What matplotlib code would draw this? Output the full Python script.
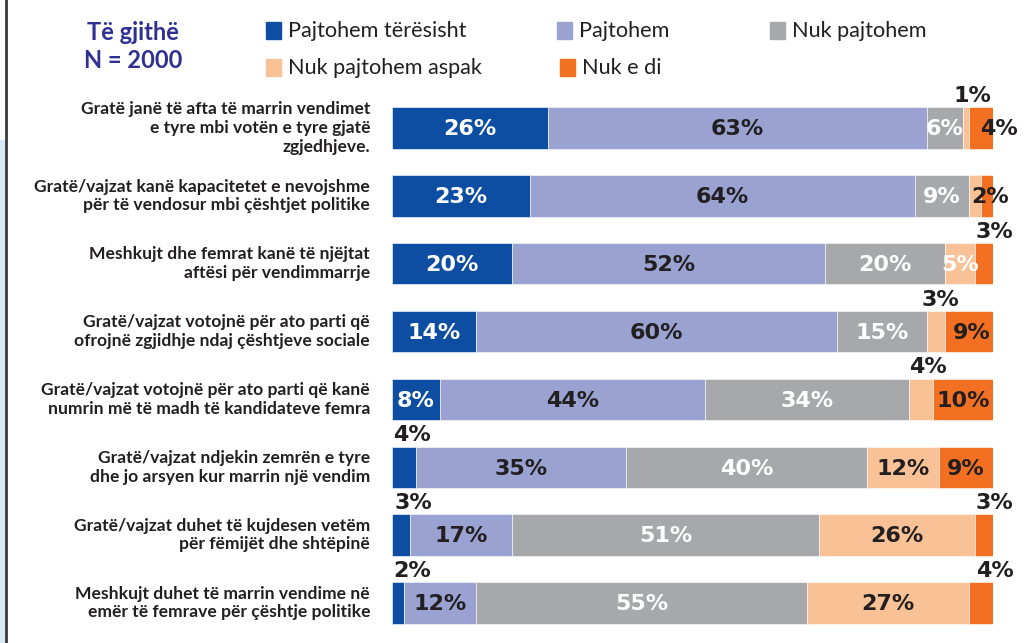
import matplotlib
matplotlib.use("Agg")
import matplotlib.pyplot as plt
from matplotlib.patches import Rectangle
from matplotlib.lines import Line2D

categories = [
    "Gratë janë të afta të marrin vendimet\ne tyre mbi votën e tyre gjatë\nzgjedhjeve.",
    "Gratë/vajzat kanë kapacitetet e nevojshme\npër të vendosur mbi çështjet politike",
    "Meshkujt dhe femrat kanë të njëjtat\naftësi për vendimmarrje",
    "Gratë/vajzat votojnë për ato parti që\nofrojnë zgjidhje ndaj çështjeve sociale",
    "Gratë/vajzat votojnë për ato parti që kanë\nnumrin më të madh të kandidateve femra",
    "Gratë/vajzat ndjekin zemrën e tyre\ndhe jo arsyen kur marrin një vendim",
    "Gratë/vajzat duhet të kujdesen vetëm\npër fëmijët dhe shtëpinë",
    "Meshkujt duhet të marrin vendime në\nemër të femrave për çështje politike",
]
series_names = ["Pajtohem tërësisht", "Pajtohem", "Nuk pajtohem",
                "Nuk pajtohem aspak", "Nuk e di"]
pajtohem_teresisht = [26, 23, 20, 14, 8, 4, 3, 2]
pajtohem = [63, 64, 52, 60, 44, 35, 17, 12]
nuk_pajtohem = [6, 9, 20, 15, 34, 40, 51, 55]
nuk_pajtohem_aspak = [1, 2, 5, 3, 4, 12, 26, 27]
nuk_e_di = [4, 2, 3, 9, 10, 9, 3, 4]
series = [pajtohem_teresisht, pajtohem, nuk_pajtohem, nuk_pajtohem_aspak, nuk_e_di]

colors = ["#0d4ea2", "#99a2d1", "#a7a8ab", "#f9c196", "#f37022"]
DARK = "#231f20"
txt_colors = ["white", DARK, "white", DARK, DARK]

# label placement overrides: (row, series) -> (mode, dx, color)
overrides = {
    (0, 3): ("above", 1.0, DARK),
    (0, 4): ("in", 3.0, DARK),
    (1, 3): ("none", 0, DARK),
    (1, 4): ("in", 0.6, DARK),
    (2, 3): ("in", 0, "white"),
    (2, 4): ("above", 1.8, DARK),
    (3, 3): ("above", 0.8, DARK),
    (4, 3): ("above", 1.2, DARK),
    (5, 0): ("above", 1.3, DARK),
    (6, 0): ("above", 2.0, DARK),
    (6, 4): ("above", 1.8, DARK),
    (7, 0): ("above", 2.3, DARK),
    (7, 4): ("above", 2.3, DARK),
}

W, H = 1029, 643
fig = plt.figure(figsize=(W / 100, H / 100), dpi=100)
fig.patch.set_facecolor("white")

pitch = (603 - 128) / 7
top_px = 128 - 0.5 * pitch
bot_px = 603 + 0.5 * pitch
ax = fig.add_axes([392 / W, 1 - bot_px / H, 601 / W, (bot_px - top_px) / H])
ax.set_xlim(0, 100)
ax.set_ylim(7.5, -0.5)
ax.axis("off")

bh = 0.61
ypos = list(range(len(categories)))
left = [0] * len(categories)
for si, vals in enumerate(series):
    ax.barh(ypos, vals, left=left, height=bh, color=colors[si],
            edgecolor="white", linewidth=0.4)
    for r, v in enumerate(vals):
        mode, dx, col = overrides.get((r, si), ("in", 0, txt_colors[si]))
        cx = left[r] + v / 2 + dx
        if mode == "in":
            ax.text(cx, r + 0.02, f"{v}%", ha="center", va="center",
                    color=col, fontsize=16, fontweight="bold",
                    family="DejaVu Sans", clip_on=False)
        elif mode == "above":
            ax.text(cx, r - bh / 2 - 0.02, f"{v}%", ha="center", va="bottom",
                    color=col, fontsize=16, fontweight="bold",
                    family="DejaVu Sans", clip_on=False)
    left = [a + b for a, b in zip(left, vals)]

# category labels
for r, cat in enumerate(categories):
    ax.text(-22 / 6.01, r, cat, ha="right", va="center", ma="right",
            fontsize=12.6, fontweight="bold", family="Lato", color=DARK,
            linespacing=1.2, clip_on=False)

# legend
leg_pos = [(266, 31), (557, 31), (770, 31), (266, 68), (560, 68)]
for (x, y), name, c in zip(leg_pos, series_names, colors):
    fig.patches.append(Rectangle((x / W, 1 - (y + 8) / H), 15 / W, 17 / H,
                                 transform=fig.transFigure, color=c))
    fig.text((x + 22) / W, 1 - y / H, name, ha="left", va="center",
             fontsize=15.6, family="Lato", color=DARK)

fig.text(133 / W, 1 - 33 / H, "Të gjithë", ha="center", va="center",
         fontsize=17, fontweight="bold", family="Lato", color="#2e3192")
fig.text(133 / W, 1 - 60 / H, "N = 2000", ha="center", va="center",
         fontsize=17, fontweight="bold", family="Lato", color="#2e3192")

# left border
fig.patches.append(Rectangle((0, 0), 4 / W, 1 - 140 / H,
                             transform=fig.transFigure, color="#d8e7f5"))
fig.lines.append(Line2D([5.5 / W, 5.5 / W], [0, 1], transform=fig.transFigure,
                        color="#3a3a3a", linewidth=2))

fig.savefig("out.png", dpi=100)
